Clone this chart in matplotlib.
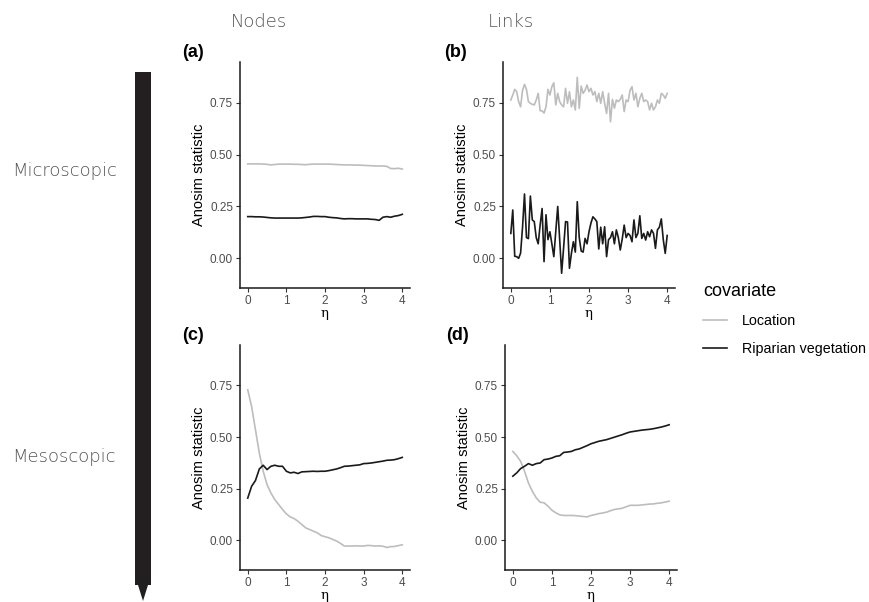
import numpy as np
import matplotlib
matplotlib.use("Agg")
import matplotlib.pyplot as plt
from matplotlib.patches import Polygon
from matplotlib.lines import Line2D

plt.rcParams["font.family"] = ["Liberation Sans", "DejaVu Sans"]

# eta grids
eta_fine = np.round(np.arange(0, 4.001, 0.05), 2)   # 81 points (links, microscopic)
eta = np.round(np.arange(0, 4.001, 0.1), 1)          # 41 points

# (a) Nodes, microscopic
a_location = [0.455, 0.455, 0.455, 0.455, 0.454, 0.453, 0.450, 0.452, 0.454, 0.454,
              0.454, 0.454, 0.453, 0.453, 0.452, 0.451, 0.453, 0.454, 0.454, 0.454,
              0.454, 0.454, 0.453, 0.452, 0.451, 0.450, 0.450, 0.450, 0.449, 0.449,
              0.448, 0.447, 0.446, 0.445, 0.445, 0.445, 0.443, 0.433, 0.432, 0.434,
              0.430]
a_riparian = [0.201, 0.201, 0.200, 0.200, 0.199, 0.197, 0.195, 0.194, 0.194, 0.194,
              0.194, 0.194, 0.194, 0.194, 0.195, 0.197, 0.199, 0.202, 0.202, 0.201,
              0.201, 0.198, 0.196, 0.195, 0.192, 0.190, 0.191, 0.191, 0.190, 0.190,
              0.190, 0.190, 0.188, 0.187, 0.183, 0.198, 0.201, 0.198, 0.203, 0.206,
              0.212]

# (b) Links, microscopic
b_location = [0.763, 0.787, 0.814, 0.803, 0.755, 0.730, 0.810, 0.838, 0.814, 0.755,
              0.747, 0.742, 0.739, 0.763, 0.795, 0.711, 0.711, 0.700, 0.730, 0.814,
              0.787, 0.827, 0.846, 0.739, 0.795, 0.755, 0.739, 0.730, 0.819, 0.747,
              0.803, 0.730, 0.763, 0.715, 0.872, 0.723, 0.830, 0.795, 0.810, 0.835,
              0.803, 0.819, 0.787, 0.803, 0.755, 0.795, 0.747, 0.803, 0.747, 0.698,
              0.795, 0.658, 0.766, 0.723, 0.763, 0.755, 0.766, 0.787, 0.707, 0.763,
              0.755, 0.810, 0.827, 0.763, 0.795, 0.730, 0.771, 0.795, 0.755, 0.763,
              0.755, 0.715, 0.747, 0.715, 0.730, 0.763, 0.747, 0.795, 0.787, 0.771,
              0.795]
b_riparian = [0.120, 0.233, 0.010, 0.008, 0.000, 0.025, 0.150, 0.310, 0.100, 0.095,
              0.300, 0.185, 0.177, 0.100, 0.070, 0.160, 0.240, -0.016, 0.210, 0.090,
              0.128, 0.070, 0.008, 0.130, 0.250, 0.090, -0.072, 0.050, 0.177, 0.175,
              -0.048, 0.024, 0.080, 0.030, 0.273, 0.100, 0.035, 0.030, 0.096, 0.070,
              0.128, 0.170, 0.200, 0.190, 0.177, 0.045, 0.150, 0.070, 0.152, 0.008,
              0.090, 0.100, 0.128, 0.070, 0.137, 0.100, 0.040, 0.093, 0.160, 0.100,
              0.120, 0.110, 0.080, 0.185, 0.100, 0.120, 0.205, 0.096, 0.120, 0.088,
              0.128, 0.104, 0.137, 0.120, 0.048, 0.137, 0.150, 0.190, 0.090, 0.024,
              0.110]

# (c) Nodes, mesoscopic
c_location = [0.729, 0.649, 0.536, 0.423, 0.335, 0.270, 0.230, 0.198, 0.174, 0.150,
              0.129, 0.114, 0.106, 0.093, 0.077, 0.061, 0.053, 0.045, 0.037, 0.024,
              0.018, 0.013, 0.005, -0.003, -0.014, -0.027, -0.027, -0.027, -0.026, -0.027,
              -0.027, -0.024, -0.025, -0.027, -0.026, -0.028, -0.034, -0.030, -0.029, -0.025,
              -0.021]
c_riparian = [0.205, 0.262, 0.290, 0.346, 0.364, 0.343, 0.359, 0.364, 0.359, 0.359,
              0.335, 0.327, 0.330, 0.324, 0.332, 0.333, 0.334, 0.335, 0.334, 0.335,
              0.335, 0.338, 0.342, 0.346, 0.352, 0.359, 0.360, 0.362, 0.364, 0.366,
              0.372, 0.373, 0.375, 0.378, 0.381, 0.384, 0.388, 0.389, 0.391, 0.396,
              0.402]

# (d) Links, mesoscopic
d_location = [0.431, 0.410, 0.383, 0.335, 0.278, 0.238, 0.206, 0.185, 0.182, 0.166,
              0.146, 0.134, 0.124, 0.121, 0.121, 0.121, 0.120, 0.118, 0.116, 0.114,
              0.121, 0.125, 0.130, 0.133, 0.137, 0.144, 0.150, 0.153, 0.156, 0.163,
              0.170, 0.170, 0.170, 0.172, 0.174, 0.176, 0.177, 0.180, 0.182, 0.186,
              0.190]
d_riparian = [0.311, 0.327, 0.348, 0.359, 0.372, 0.364, 0.372, 0.375, 0.391, 0.394,
              0.399, 0.407, 0.410, 0.426, 0.428, 0.431, 0.439, 0.443, 0.451, 0.459,
              0.468, 0.474, 0.480, 0.484, 0.488, 0.494, 0.500, 0.506, 0.512, 0.519,
              0.525, 0.528, 0.531, 0.534, 0.536, 0.538, 0.541, 0.545, 0.549, 0.554,
              0.560]

col_loc = "#BDBDBD"
col_rip = "#1A1A1A"
W, H = 869, 602

fig = plt.figure(figsize=(W / 100, H / 100), dpi=100)


def px_axes(left, top, right, bottom):
    return fig.add_axes([left / W, 1 - bottom / H, (right - left) / W, (bottom - top) / H])


panels = [
    ("(a)", px_axes(240, 62, 410, 288), eta, a_location, eta, a_riparian),
    ("(b)", px_axes(503, 62, 675, 288), eta_fine, b_location, eta_fine, b_riparian),
    ("(c)", px_axes(240, 345, 410, 570), eta, c_location, eta, c_riparian),
    ("(d)", px_axes(505, 345, 677, 570), eta, d_location, eta, d_riparian),
]

for tag, ax, x1, y1, x2, y2 in panels:
    ax.plot(x1, y1, color=col_loc, lw=1.2)
    ax.plot(x2, y2, color=col_rip, lw=1.2)
    ax.set_xlim(-0.2, 4.2)
    ax.set_ylim(-0.143, 0.946)
    ax.set_xticks([0, 1, 2, 3, 4])
    ax.set_yticks([0, 0.25, 0.5, 0.75])
    ax.set_yticklabels(["0.00", "0.25", "0.50", "0.75"])
    for s in ["top", "right"]:
        ax.spines[s].set_visible(False)
    for s in ["left", "bottom"]:
        ax.spines[s].set_color("#1A1A1A")
        ax.spines[s].set_linewidth(1.1)
    ax.tick_params(length=3, width=0.8, color="#333333", labelcolor="#4D4D4D",
                   labelsize=8.5, pad=2)
    ax.set_ylabel("Anosim statistic", fontsize=10.5, labelpad=3)
    ax.set_xlabel("η", fontsize=9.5, family="DejaVu Serif", labelpad=0)
    ax.text(-0.34, 1.04, tag, transform=ax.transAxes, fontsize=13,
            fontweight="bold", va="center", ha="left")

# column and row titles
title_font = dict(family=["DejaVu Sans"], fontweight="light", color="#555555")
fig.text(259 / W, 1 - 22 / H, "Nodes", fontsize=13, ha="center", va="center", **title_font)
fig.text(511 / W, 1 - 22 / H, "Links", fontsize=13, ha="center", va="center", **title_font)
fig.text(12 / W, 1 - 171 / H, "Microscopic", fontsize=13, ha="left", va="center", **title_font)
fig.text(12 / W, 1 - 457 / H, "Mesoscopic", fontsize=13, ha="left", va="center", **title_font)

# scale arrow
bar = Polygon([(135 / W, 1 - 72 / H), (151 / W, 1 - 72 / H), (151 / W, 1 - 585 / H),
               (148 / W, 1 - 585 / H), (143 / W, 1 - 601 / H), (138 / W, 1 - 585 / H),
               (135 / W, 1 - 585 / H)], closed=True, transform=fig.transFigure,
              facecolor="#231F20", edgecolor="none")
fig.patches.append(bar)

# legend
handles = [Line2D([], [], color=col_loc, lw=1.2), Line2D([], [], color=col_rip, lw=1.2)]
leg = fig.legend(handles, ["Location", "Riparian vegetation"], title="covariate",
                 loc="upper left", bbox_to_anchor=(690 / W, 1 - 270 / H), frameon=False,
                 fontsize=10.3, title_fontsize=13, handlelength=1.7, handletextpad=1.0,
                 labelspacing=1.0)
leg._legend_box.align = "left"

fig.savefig("out.png", dpi=100)
